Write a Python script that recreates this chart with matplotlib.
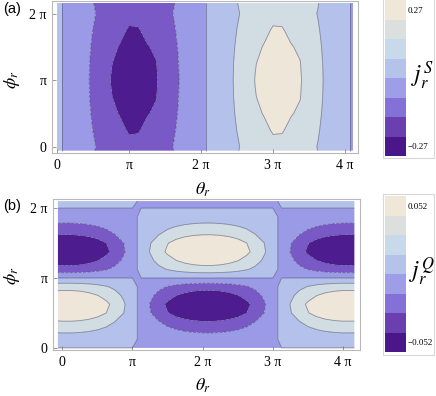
import numpy as np
import matplotlib
matplotlib.use("Agg")
import matplotlib.pyplot as plt

plt.rcParams['mathtext.fontset'] = 'stix'

PI = np.pi

# panel (a): spin current j_r^S, read along theta at phi = pi, plus phi scaling
theta_a = np.append(np.arange(33) / 8, 4.11) * PI
jS_mid = np.array([0.0296, -0.0233, -0.0753, -0.1249, -0.1688, -0.2068, -0.2360, -0.2500,
                   -0.2670, -0.2660, -0.2500, -0.2400, -0.2100, -0.1753, -0.1301, -0.0813,
                   -0.0296, 0.0233, 0.0753, 0.1249, 0.1688, 0.2068, 0.2360, 0.2500,
                   0.2670, 0.2660, 0.2500, 0.2400, 0.2100, 0.1753, 0.1301, 0.0813,
                   0.0296, -0.0170])
phi_a = np.array([-0.06, 0, 0.25, 0.5, 0.75, 1.0, 1.25, 1.5, 1.75, 2.0, 2.16]) * PI
scale_a = np.array([0.85, 0.833, 0.897, 0.951, 0.987, 1.0, 0.987, 0.951, 0.897, 0.833, 0.875])

# panel (b): charge current j_r^Q, read along theta at the peak row, plus phi profile
theta_b = np.concatenate([[-0.06], np.arange(33) / 8, [4.16]]) * PI
jQ_mid = np.array([0.0509, 0.0517, 0.0518, 0.0499, 0.0461, 0.0406, 0.0335, 0.0251, 0.0157,
                   0.0057, -0.0045, -0.0145, -0.0240, -0.0325, -0.0398, -0.0456, -0.0496,
                   -0.0517, -0.0518, -0.0499, -0.0461, -0.0406, -0.0335, -0.0251, -0.0157,
                   -0.0057, 0.0045, 0.0145, 0.0240, 0.0325, 0.0398, 0.0456, 0.0496,
                   0.0517, 0.0515])
phi_b = np.append(np.arange(17) / 8, 2.1) * PI
scale_b = np.array([0, 0.12, 0.33, 0.56, 0.90, 1.0, 0.75, 0.45, 0,
                    -0.45, -0.75, -1.0, -0.90, -0.56, -0.33, -0.12, 0, 0.10])

levels_a = [-0.3, -0.235, -0.15, 0, 0.15, 0.235, 0.3]
levels_b = [-0.06, -0.030, -0.014, 0, 0.014, 0.030, 0.06]
region_colors = ['#4d1c8e', '#7859c6', '#9b9ae6', '#b4c1ea', '#d2dde3', '#eee7d9']

bar_colors = ['#4a178a', '#6a40b0', '#8570d8', '#9d9de8', '#b5c2ea', '#c8d9e9', '#dbe0df', '#efe7d7']
bar_ticks_a = ['\u22120.27', '0.27']
bar_ticks_b = ['\u22120.052', '0.052']

pi_ticks = [0, PI, 2 * PI, 3 * PI, 4 * PI]
pi_labels = ['0', '\u03c0', '2 \u03c0', '3 \u03c0', '4 \u03c0']

W, H = 436, 396
fig = plt.figure(figsize=(W / 100, H / 100), dpi=100)


def box(x0, y0, x1, y1):
    # pixel box (top-left origin) -> figure fraction rect
    return [x0 / W, 1 - y1 / H, (x1 - x0) / W, (y1 - y0) / H]


def panel(rect, th, ph, prof, scale, levels, xlim, ylim):
    ax = fig.add_axes(rect)
    Z = np.outer(scale, prof)
    ax.contourf(th, ph, Z, levels=levels, colors=region_colors, antialiased=True)
    ax.contour(th, ph, Z, levels=levels[1:-1], colors='#3c3c5c', linewidths=0.6, alpha=0.55)
    ax.set_xlim(*xlim)
    ax.set_ylim(*ylim)
    ax.set_xticks(pi_ticks)
    ax.set_xticklabels(pi_labels)
    ax.set_yticks(pi_ticks[:3])
    ax.set_yticklabels(pi_labels[:3])
    ax.tick_params(direction='in', length=3, width=0.6, color='#888888', labelsize=10, pad=4)
    for lab in ax.get_xticklabels() + ax.get_yticklabels():
        lab.set_family('Liberation Serif')
    for s in ax.spines.values():
        s.set_color('#b8b8b8')
        s.set_linewidth(0.8)
    return ax


ax_a = panel(box(52, 1, 358, 153), theta_a, phi_a, jS_mid, scale_a, levels_a,
             (-0.07 * PI, 4.18 * PI), (-0.095 * PI, 2.19 * PI))
ax_b = panel(box(53, 199, 360, 350), theta_b, phi_b, jQ_mid, scale_b, levels_b,
             (-0.13 * PI, 4.24 * PI), (-0.03 * PI, 2.13 * PI))


def legend_bar(rect, labels, name, ylab):
    cax = fig.add_axes(rect)
    for i, c in enumerate(bar_colors):
        cax.axhspan(i, i + 1, color=c, lw=0)
    cax.set_ylim(0, len(bar_colors))
    cax.set_xlim(0, 1)
    cax.set_xticks([])
    cax.yaxis.tick_right()
    cax.set_yticks([0.5, len(bar_colors) - 0.5])
    cax.set_yticklabels(labels, family='Liberation Serif', fontsize=6.5)
    cax.tick_params(length=0, pad=1)
    for s in cax.spines.values():
        s.set_visible(False)
    x = (rect[0] + rect[2]) * W + 16
    fig.text(x / W, ylab, name, fontsize=17, ha='center', va='center')


legend_bar(box(385, 0, 406, 156), bar_ticks_a, r'$j_r^S$', 1 - 76 / H)
legend_bar(box(385, 196, 406, 352), bar_ticks_b, r'$j_r^Q$', 1 - 272 / H)

# light frames around the legends
for y0, y1 in [(-2, 158), (194, 355)]:
    r = box(383, y0, 434, y1)
    fig.add_artist(plt.Rectangle((r[0], r[1]), r[2], r[3], transform=fig.transFigure,
                                 fill=False, ec='#d8d8d8', lw=0.8))

# axis labels and panel tags
for yl in (190, 386):
    fig.text(203 / W, 1 - yl / H, r'$\theta_r$', fontsize=13, ha='center', va='center')
fig.text(12 / W, 1 - 80 / H, r'$\phi_r$', fontsize=13, ha='center', va='center', rotation=90)
fig.text(12 / W, 1 - 276 / H, r'$\phi_r$', fontsize=13, ha='center', va='center', rotation=90)
fig.text(3 / W, 1 - 9 / H, '(a)', fontsize=10.5, family='Liberation Sans', va='center')
fig.text(3 / W, 1 - 206 / H, '(b)', fontsize=10.5, family='Liberation Sans', va='center')

fig.savefig('out.png', dpi=100)
